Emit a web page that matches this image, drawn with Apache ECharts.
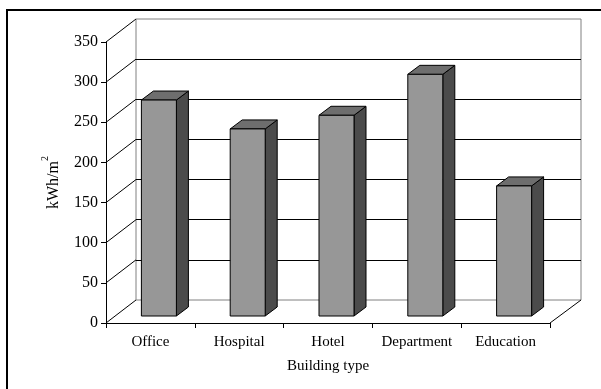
<!DOCTYPE html>
<html>
<head>
<meta charset="utf-8">
<script src="https://cdn.jsdelivr.net/npm/echarts@6/dist/echarts.min.js"></script>
<style>
  html, body { margin: 0; padding: 0; background: #fff; }
  #chart { width: 601px; height: 389px; }
</style>
</head>
<body>
<div id="chart"></div>
<script>
// Annual electricity use intensity by building type
const categories = ['Office', 'Hospital', 'Hotel', 'Department', 'Education'];
const intensity = [269, 233, 250, 301, 162];
const yTicks = [0, 50, 100, 150, 200, 250, 300, 350];

// pseudo-3D geometry (pixels)
const WALL_DX = 30, WALL_DY = -23;      // depth of the floor / side wall
const BAR_W = 35;                        // front face width
const BAR_SHIFT_X = 8.5, BAR_SHIFT_Y = -7; // bar front plane offset
const BAR_DX = 12, BAR_DY = -9;          // bar depth

const FONT = '"Liberation Serif", "Times New Roman", serif';

const chart = echarts.init(document.getElementById('chart'), null, { renderer: 'canvas' });

function renderWallLine(params, api) {
  const cs = params.coordSys;
  const y = api.coord([0, api.value(1)])[1];
  return {
    type: 'line',
    shape: { x1: cs.x, y1: y, x2: cs.x + WALL_DX, y2: y + WALL_DY },
    style: { stroke: '#000', lineWidth: 1 }
  };
}

function renderFloorRight(params, api) {
  const cs = params.coordSys;
  const y = api.coord([0, 0])[1];
  const x = cs.x + cs.width;
  return {
    type: 'line',
    shape: { x1: x, y1: y, x2: x + WALL_DX + 1, y2: y + WALL_DY },
    style: { stroke: '#000', lineWidth: 1 }
  };
}

function renderBar(params, api) {
  const i = api.value(0), v = api.value(1);
  const top = api.coord([i, v]);
  const base = api.coord([i, 0]);
  const cx = top[0] + BAR_SHIFT_X;
  const yt = top[1] + BAR_SHIFT_Y;
  const yb = base[1] + BAR_SHIFT_Y;
  const x0 = cx - BAR_W / 2, x1 = cx + BAR_W / 2;
  const edge = { stroke: '#000', lineWidth: 1, lineJoin: 'miter' };
  return {
    type: 'group',
    children: [
      { type: 'polygon',
        shape: { points: [[x1, yt], [x1 + BAR_DX, yt + BAR_DY], [x1 + BAR_DX, yb + BAR_DY], [x1, yb]] },
        style: Object.assign({ fill: '#4b4b4b' }, edge) },
      { type: 'polygon',
        shape: { points: [[x0, yt], [x0 + BAR_DX, yt + BAR_DY], [x1 + BAR_DX, yt + BAR_DY], [x1, yt]] },
        style: Object.assign({ fill: '#6e6e6e' }, edge) },
      { type: 'polygon',
        shape: { points: [[x0, yt], [x1, yt], [x1, yb], [x0, yb]] },
        style: Object.assign({ fill: '#979797' }, edge) }
    ]
  };
}

const option = {
  animation: false,
  backgroundColor: '#fff',
  graphic: [
    { type: 'rect', shape: { x: 7, y: 10, width: 700, height: 500 },
      style: { fill: 'none', stroke: '#000', lineWidth: 2 }, z: 0 }
  ],
  grid: [
    // front plane: axes
    { left: 106, top: 42, width: 444, height: 281, containLabel: false },
    // back wall
    { left: 136, top: 19, width: 445, height: 281, show: true,
      borderColor: '#808080', borderWidth: 1, backgroundColor: 'transparent' }
  ],
  xAxis: [
    { type: 'category', gridIndex: 0, data: categories, boundaryGap: true,
      name: 'Building type', nameLocation: 'middle', nameGap: 36,
      nameTextStyle: { fontFamily: FONT, fontSize: 15, color: '#000' },
      axisLine: { lineStyle: { color: '#000', width: 1 } },
      axisTick: { show: true, length: 5, alignWithLabel: false, lineStyle: { color: '#000' } },
      axisLabel: { fontFamily: FONT, fontSize: 15, color: '#000', margin: 12, interval: 0 },
      splitLine: { show: false } },
    { type: 'category', gridIndex: 1, data: categories, show: false }
  ],
  yAxis: [
    { type: 'value', gridIndex: 0, min: 0, max: 350, interval: 50,
      name: '{u|kWh/m}{s|2}', nameLocation: 'middle', nameGap: 44, nameRotate: 90,
      nameTextStyle: {
        fontFamily: FONT, fontSize: 16, color: '#000',
        rich: {
          u: { fontFamily: FONT, fontSize: 16, color: '#000', lineHeight: 22, verticalAlign: 'bottom' },
          s: { fontFamily: FONT, fontSize: 10, color: '#000', lineHeight: 22, verticalAlign: 'top' }
        }
      },
      axisLine: { show: true, lineStyle: { color: '#000', width: 1 } },
      axisTick: { show: true, length: 5, lineStyle: { color: '#000' } },
      axisLabel: { fontFamily: FONT, fontSize: 16, color: '#000', margin: 8,
        formatter: function (v) { return yTicks.indexOf(v) >= 0 ? String(v) : ''; } },
      splitLine: { show: false } },
    { type: 'value', gridIndex: 1, min: 0, max: 350, interval: 50,
      axisLine: { show: false }, axisTick: { show: false }, axisLabel: { show: false },
      splitLine: { show: true, showMinLine: false, showMaxLine: false,
        lineStyle: { color: '#000', width: 1 } } }
  ],
  series: [
    { type: 'custom', xAxisIndex: 0, yAxisIndex: 0, clip: false, silent: true,
      renderItem: renderWallLine, data: yTicks.map(function (v) { return [0, v]; }), z: 3 },
    { type: 'custom', xAxisIndex: 0, yAxisIndex: 0, clip: false, silent: true,
      renderItem: renderFloorRight, data: [[0, 0]], z: 3 },
    { type: 'custom', xAxisIndex: 0, yAxisIndex: 0, clip: false,
      renderItem: renderBar, data: intensity.map(function (v, i) { return [i, v]; }), z: 5 }
  ]
};

chart.setOption(option);
</script>
</body>
</html>
